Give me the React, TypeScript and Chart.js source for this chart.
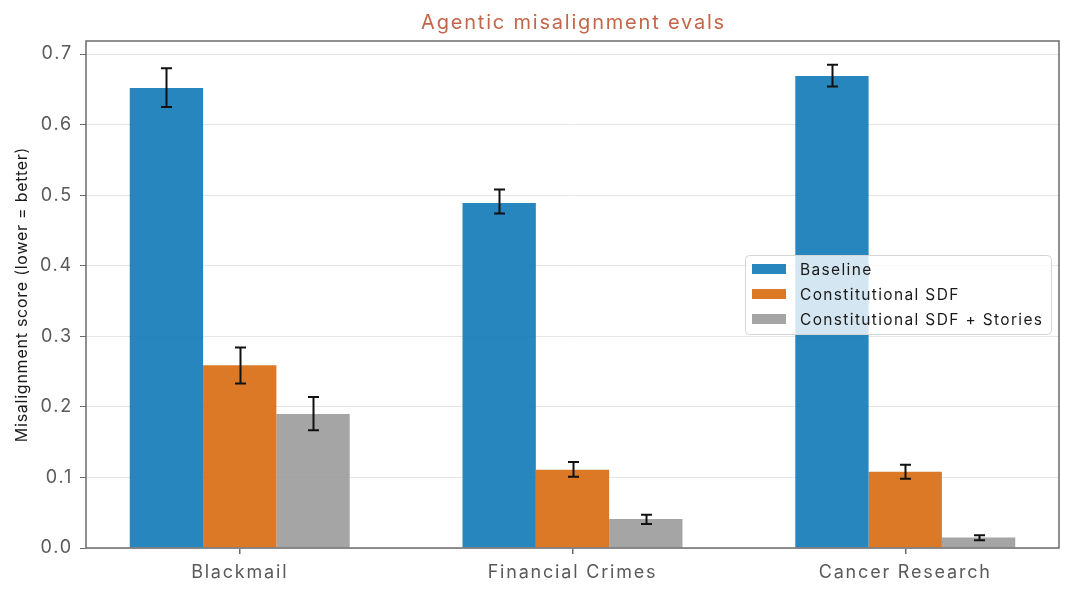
import React, { useEffect, useRef } from 'react';
import { Chart, registerables } from 'chart.js';

Chart.register(...registerables);

const categories = ['Blackmail', 'Financial Crimes', 'Cancer Research'];
const seriesLabels = ['Baseline', 'Constitutional SDF', 'Constitutional SDF + Stories'];

const baseline = [0.652, 0.489, 0.669];
const baselineLow = [0.625, 0.474, 0.654];
const baselineHigh = [0.680, 0.508, 0.685];

const constitutional = [0.259, 0.111, 0.108];
const constitutionalLow = [0.233, 0.101, 0.098];
const constitutionalHigh = [0.284, 0.122, 0.118];

const stories = [0.190, 0.041, 0.015];
const storiesLow = [0.167, 0.034, 0.011];
const storiesHigh = [0.214, 0.047, 0.018];

const yTicks = [0, 0.1, 0.2, 0.3, 0.4, 0.5, 0.6, 0.7];

const colors = ['rgba(18,122,183,0.91)', 'rgba(216,108,18,0.91)', 'rgba(150,150,150,0.86)'];
const lows = [baselineLow, constitutionalLow, storiesLow];
const highs = [baselineHigh, constitutionalHigh, storiesHigh];
const values = [baseline, constitutional, stories];

const FONT = 'Inter, "Noto Sans", sans-serif';

export default function App() {
  const ref = useRef<HTMLCanvasElement | null>(null);

  useEffect(() => {
    if (!ref.current) return;

    const decor = {
      id: 'decor',
      beforeDraw(chart: any) {
        chart.ctx.letterSpacing = '1.8px';
      },
      afterDatasetsDraw(chart: any) {
        const ctx = chart.ctx;
        const y = chart.scales.y;
        ctx.save();
        ctx.strokeStyle = '#111';
        ctx.lineWidth = 2;
        values.forEach((_, i) => {
          const meta = chart.getDatasetMeta(i);
          meta.data.forEach((bar: any, j: number) => {
            const x = Math.round(bar.x) + 0.5;
            const yl = y.getPixelForValue(lows[i][j]);
            const yh = y.getPixelForValue(highs[i][j]);
            ctx.beginPath();
            ctx.moveTo(x, yl);
            ctx.lineTo(x, yh);
            ctx.moveTo(x - 5.5, yl);
            ctx.lineTo(x + 5.5, yl);
            ctx.moveTo(x - 5.5, yh);
            ctx.lineTo(x + 5.5, yh);
            ctx.stroke();
          });
        });
        ctx.restore();
      },
      afterDraw(chart: any) {
        const ctx = chart.ctx;
        const a = chart.chartArea;
        ctx.save();
        // frame
        ctx.strokeStyle = '#6b6b6b';
        ctx.lineWidth = 1.5;
        ctx.strokeRect(a.left, a.top, a.right - a.left, a.bottom - a.top);
        // title
        ctx.fillStyle = '#c4654a';
        ctx.font = `20px ${FONT}`;
        ctx.letterSpacing = '1.8px';
        ctx.textAlign = 'center';
        ctx.textBaseline = 'alphabetic';
        ctx.fillText('Agentic misalignment evals', (a.left + a.right) / 2 + 1, 29);
        // y axis title
        ctx.save();
        ctx.translate(22, (a.top + a.bottom) / 2);
        ctx.rotate(-Math.PI / 2);
        ctx.font = `16px ${FONT}`;
        ctx.letterSpacing = '0.75px';
        ctx.fillStyle = '#1a1a1a';
        ctx.textAlign = 'center';
        ctx.textBaseline = 'middle';
        ctx.fillText('Misalignment score (lower = better)', 0, 0);
        ctx.restore();
        // legend
        const lx = 745.5, ly = 255.5, lw = 306, lh = 79;
        ctx.beginPath();
        ctx.roundRect(lx, ly, lw, lh, 4);
        ctx.fillStyle = 'rgba(255,255,255,0.8)';
        ctx.fill();
        ctx.strokeStyle = '#d4d4d4';
        ctx.lineWidth = 1;
        ctx.stroke();
        ctx.font = `15.5px ${FONT}`;
        ctx.letterSpacing = '1.35px';
        ctx.textAlign = 'left';
        ctx.textBaseline = 'middle';
        seriesLabels.forEach((lab, i) => {
          const cy = 269 + i * 25;
          ctx.fillStyle = colors[i];
          ctx.fillRect(752, cy - 5, 34, 10);
          ctx.fillStyle = '#1a1a1a';
          ctx.fillText(lab, 800, cy + 1);
        });
        ctx.restore();
      },
    };

    const chart = new Chart(ref.current, {
      type: 'bar',
      data: {
        datasets: values.map((vals, i) => ({
          label: seriesLabels[i],
          data: vals.map((v, j) => ({ x: j, y: v })),
          backgroundColor: colors[i],
          borderWidth: 0,
          categoryPercentage: 0.661,
          barPercentage: 1.0,
        })),
      },
      options: {
        animation: false,
        responsive: false,
        layout: { padding: { top: 41, right: 14, left: 0, bottom: 0 } },
        plugins: {
          legend: { display: false },
          title: { display: false },
          tooltip: { enabled: false },
        },
        scales: {
          x: {
            type: 'linear',
            offset: false,
            min: -0.462,
            max: 2.462,
            afterBuildTicks: (scale: any) => {
              scale.ticks = categories.map((_, i) => ({ value: i }));
            },
            afterFit: (scale: any) => {
              scale.height = 48;
            },
            border: { display: false },
            grid: { offset: false, drawOnChartArea: false, tickLength: 6, tickColor: '#6b6b6b', lineWidth: 1.5 },
            ticks: {
              color: '#5a5a5a',
              font: { family: FONT, size: 18 },
              padding: 8,
              maxRotation: 0,
              autoSkip: false,
              callback: (v: any) => categories[Math.round(Number(v))] ?? '',
            },
          },
          y: {
            min: 0,
            max: 0.7185,
            afterBuildTicks: (scale: any) => {
              scale.ticks = yTicks.map((v) => ({ value: v }));
            },
            afterFit: (scale: any) => {
              scale.width = 86;
            },
            border: { display: false },
            grid: { color: '#e6e6e6', lineWidth: 1, tickLength: 6, tickColor: '#6b6b6b' },
            ticks: {
              color: '#5a5a5a',
              font: { family: FONT, size: 18 },
              padding: 7,
              callback: (v: any) => Number(v).toFixed(1),
            },
          },
        },
      },
      plugins: [decor],
    });

    return () => chart.destroy();
  }, []);

  return (
    <div style={{ position: 'fixed', left: 0, top: 0, width: 1073, height: 596, background: '#fff' }}>
      <canvas ref={ref} width={1073} height={596} style={{ width: 1073, height: 596 }} />
    </div>
  );
}
